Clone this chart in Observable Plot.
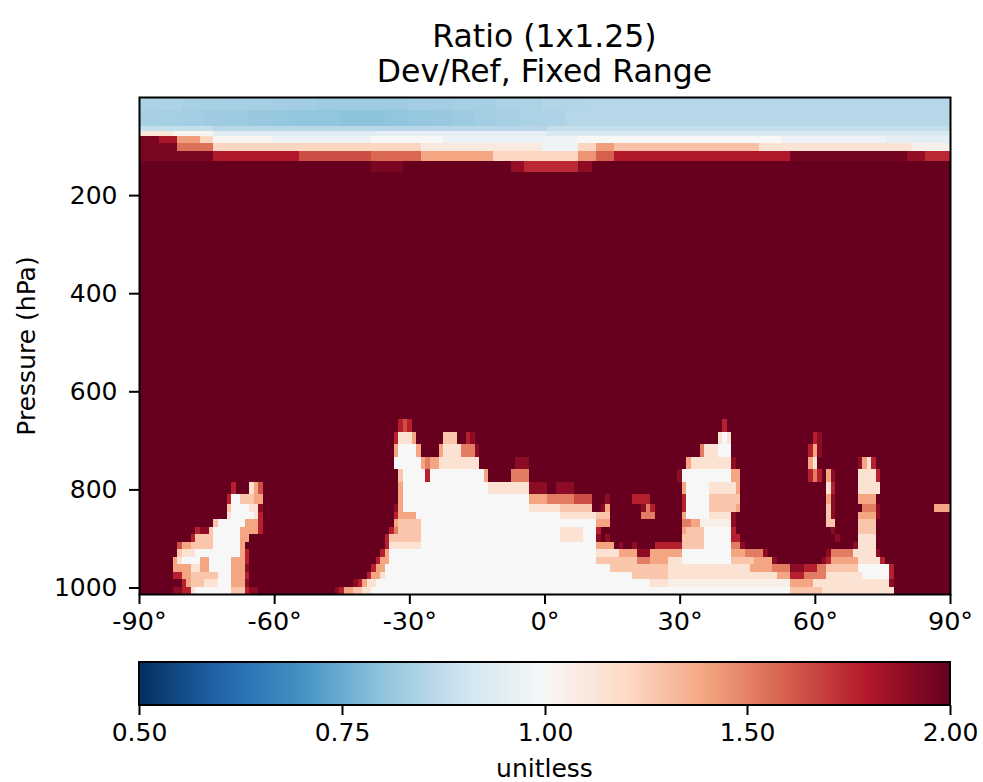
<!DOCTYPE html>
<html>
<head>
<meta charset="utf-8">
<script src="https://cdn.jsdelivr.net/npm/d3@7"></script>
<script src="https://cdn.jsdelivr.net/npm/@observablehq/plot@0.6"></script>
<style>
  body { margin: 0; background: #fff; font-family: "DejaVu Sans", sans-serif; color: #000; }
  #title { width: 983px; height: 88px; box-sizing: border-box; padding-top: 19px; padding-left: 139px; padding-right: 33px;
           text-align: center; font-size: 31.5px; line-height: 35px; }
  #title div { white-space: nowrap; }
</style>
</head>
<body>
<div id="title"><div>Ratio (1x1.25)</div><div>Dev/Ref, Fixed Range</div></div>
<div id="chart"></div>
<div id="cbar"></div>
<script>
// ---------------- data ----------------
const latitudes = d3.range(-90, 91);            // 1° latitude cell centres
// level edges (hPa), surface upward; upper-troposphere edges
const pressureEdges = [1013.25, 998.05, 982.76, 967.49, 952.19, 936.90, 921.60, 906.30, 891.01, 875.71,
  860.42, 845.12, 829.83, 809.44, 783.97, 758.49, 733.01, 707.54, 682.07, 656.59, 631.12, 605.64, 580.17,
  554.70, 529.22, 503.75, 478.27, 452.80, 427.33, 401.85, 376.38, 350.90, 325.43, 299.95, 274.48, 249.01,
  216.86, 187.87, 152.0, 130.0, 109.6, 92.8, 79.2, 69.0, 59.0, 45.18, 35.52, 27.26, 20.35, 14.70,
  10.13, 6.71, 4.44, 2.94, 1.94, 1.28, 0.84, 0.55, 0.35, 0.22, 0.14, 0.08, 0.05, 0.03, 0.02, 0.01];
const latTicks = [-90, -60, -30, 0, 30, 60, 90];
const pressureTicks = [200, 400, 600, 800, 1000];
const colorbarTicks = [0.5, 0.75, 1.0, 1.5, 2.0];
const colorDomain = [0.5, 2.0];
const colorPivot = 1.0;
const saturatedRatio = 2.5;   // ratio above the colour range (most of the troposphere)
const codeValues = {D: 1.9, R: 1.78, r: 1.65, S: 1.52, s: 1.4, p: 1.28, q: 1.15, w: 1.06, W: 1.0};

// near-surface levels, index 0 = lowest level; "lat0 lat1 value" segments
const surfaceRows = [
  "-82 -81 D|-80 -79 R|-78 -78 q|-77 -70 W|-69 -67 p|-66 -66 R|-65 -64 D|-46 -46 D|-45 -45 R|-44 -43 s|-42 -41 p|-40 -39 q|-38 54 W|55 61 p|62 77 q",
  "-80 -80 R|-79 -79 s|-78 -76 p|-75 -73 q|-72 -70 W|-69 -67 s|-66 -66 D|-42 -42 D|-41 -41 R|-40 -40 s|-39 -38 q|-37 23 W|24 27 q|28 54 w|55 59 s|60 76 q|77 77 D",
  "-82 -81 R|-80 -79 s|-78 -73 p|-72 -70 W|-69 -67 s|-66 -66 R|-39 -39 R|-38 -37 s|-36 -36 q|-35 19 W|20 27 p|28 51 q|52 54 s|55 57 R|58 62 S|63 70 q|71 76 W|77 77 R",
  "-82 -79 s|-78 -77 q|-76 -75 s|-74 -70 W|-69 -67 s|-66 -66 D|-38 -38 R|-37 -36 s|-35 14 W|15 27 p|28 45 q|46 50 s|51 54 S|55 57 D|58 60 R|61 62 S|63 69 p|70 76 W|77 77 R",
  "-82 -82 s|-81 -81 q|-80 -77 W|-76 -75 s|-74 -70 W|-69 -67 s|-66 -66 R|-37 -37 R|-36 -35 s|-34 11 W|12 20 p|21 23 S|24 27 s|28 30 q|31 41 W|42 46 p|47 50 s|51 51 D|62 62 D|63 63 R|64 69 s|70 74 q|75 75 R",
  "-81 -81 p|-80 -78 q|-77 -68 W|-67 -67 s|-66 -66 R|-36 -36 R|-35 -35 s|-34 11 W|12 16 q|17 20 s|21 23 D|24 30 s|31 41 W|42 44 s|45 48 S|49 49 D|63 63 D|64 68 S|69 73 q|74 74 D",
  "-81 -81 r|-80 -79 s|-78 -74 p|-73 -68 W|-67 -67 s|-35 -35 R|-34 -28 q|-27 11 W|12 15 s|17 17 D|20 20 D|25 30 R|31 35 p|36 41 W|42 43 S|44 44 D|69 69 D|70 73 q",
  "-78 -78 R|-77 -74 p|-73 -68 W|-67 -66 s|-35 -35 R|-34 -28 p|-27 3 W|4 8 q|9 11 W|12 12 D|14 14 D|31 35 p|36 41 W|42 43 R|65 65 D|70 73 q",
  "-77 -77 R|-76 -75 D|-74 -74 p|-73 -68 W|-67 -64 s|-63 -63 R|-34 -34 R|-33 -33 S|-32 -28 p|-27 3 W|4 8 q|9 11 W|12 12 R|31 31 s|32 35 p|36 41 W|42 42 R|64 64 D|70 73 p",
  "-73 -73 p|-72 -67 W|-66 -64 s|-63 -63 R|-33 -33 s|-32 -28 p|-27 11 W|12 14 s|31 32 S|33 34 s|35 41 w|42 42 D|63 64 p|70 73 p",
  "-70 -70 q|-69 -65 W|-64 -64 q|-63 -63 R|-33 -33 R|-32 -29 s|-28 3 W|4 11 q|12 14 p|22 24 S|31 31 s|32 36 W|37 41 q|42 42 D|63 63 p|64 64 D|70 73 s|74 74 D",
  "-70 -70 p|-69 -66 W|-65 -64 q|-63 -63 D|-33 -33 D|-32 -32 s|-31 -4 W|-3 3 q|4 10 p|13 13 D|14 14 s|22 22 D|23 23 S|24 24 R|31 31 R|32 36 W|37 42 p|43 43 s|63 63 p|64 64 D|71 73 S|74 74 D|87 90 s",
  "-70 -70 R|-69 -68 W|-67 -65 p|-64 -63 s|-32 -32 s|-31 -4 W|-3 0 s|1 6 S|7 10 r|14 14 D|20 23 R|31 31 R|32 36 W|37 43 p|63 63 s|64 64 D|70 73 s",
  "-69 -69 R|-65 -65 q|-64 -64 s|-63 -63 r|-32 -32 s|-31 -13 W|-12 -4 q|-3 0 D|3 6 D|31 31 s|32 36 W|37 42 q|43 43 s|63 63 q|64 64 R|70 74 q",
  "-32 -32 p|-31 -27 W|-26 -26 R|-25 -14 W|-13 -13 s|-7 -4 S|30 30 D|31 41 W|42 43 s|59 59 R|60 60 S|61 61 R|63 63 s|64 64 D|70 73 q|74 74 R",
  "-33 -28 W|-27 -27 s|-26 -26 S|-25 -24 s|-23 -15 q|-6 -4 D|32 32 s|33 41 q|42 42 D|59 59 s|60 60 q|70 70 D|71 71 s|72 72 q|73 73 R",
  "-33 -33 s|-32 -29 W|-28 -28 s|-23 -23 s|-22 -19 q|-18 -16 S|-15 -15 D|35 35 S|36 38 q|39 41 W|59 59 R|60 60 s|61 61 D",
  "-33 -33 R|-32 -30 q|-29 -29 s|-22 -20 p|-17 -17 R|-16 -16 D|39 39 q|40 40 W|41 41 q|60 60 R|61 61 D",
  "-32 -32 R|-31 -31 r|-30 -30 R|40 40 R"
];

// tropopause / lower-stratosphere levels (index into pressureEdges)
const level38 = "-38 -32 1.95|-7 -5 1.88|-4 7 1.75|8 10 1.9";
const level39 = "-90 -74 1.95|-73 -55 1.8|-54 -39 1.65|-38 -28 1.58|-27 -12 1.4|-11 7 1.22|8 11 1.45|12 15 1.6|16 54 1.8|55 80 1.97|81 84 1.88|85 90 1.75";
const level40 = "-90 -82 1.95|-81 -74 1.55|-73 -28 1.22|-27 -1 1.1|0 7 0.98|8 11 1.22|12 15 1.42|16 47 1.3|48 81 1.15|82 90 1.05";
const level41 = "-90 -86 1.95|-85 -82 1.82|-81 -77 1.42|-76 -74 1.22|-73 -61 1.02|-60 -39 0.97|-38 -23 1.0|-22 0 0.97|1 7 0.98|8 52 1.0|53 75 0.97|76 90 0.95";
const level42 = "-90 -83 1.12|-82 -74 1.03|-73 -38 0.94|-37 0 0.95|1 90 0.92";
const level43 = "-90 -74 0.88|-73 0 0.86|1 90 0.88";
const stratosphereMid = "-90 -86 0.835|-85 -81 0.83|-80 -76 0.825|-75 -71 0.82|-70 -66 0.815|-65 -61 0.81|-60 -56 0.805|-55 -46 0.8|-45 -36 0.795|-35 -31 0.8|-30 -26 0.805|-25 -21 0.81|-20 -16 0.815|-15 -11 0.825|-10 -6 0.835|-5 -1 0.84|0 4 0.845|5 90 0.855";
const stratosphereTop = "-90 -81 0.84|-80 -71 0.835|-70 -61 0.83|-60 -51 0.825|-50 -31 0.82|-30 -21 0.825|-20 -11 0.83|-10 -1 0.84|0 9 0.85|10 90 0.855";
const upperRows = {38: level38, 39: level39, 40: level40, 41: level41, 42: level42, 43: level43};

// ---------------- build table ----------------
function applySegments(row, spec) {
  if (!spec) return;
  for (const seg of spec.split("|")) {
    const [a, b, c] = seg.trim().split(/\s+/);
    const v = c in codeValues ? codeValues[c] : +c;
    for (let lat = +a; lat <= +b; lat++) row[lat + 90] = v;
  }
}
function rowSpec(k) {
  if (k < surfaceRows.length) return surfaceRows[k];
  if (upperRows[k]) return upperRows[k];
  if (k >= 44 && k <= 46) return stratosphereMid;
  if (k >= 47) return stratosphereTop;
  return null;
}
const cells = [];
for (let k = 0; k < pressureEdges.length - 1; k++) {
  const row = latitudes.map(() => saturatedRatio);
  applySegments(row, rowSpec(k));
  latitudes.forEach((lat, i) => {
    cells.push({
      lat0: Math.max(-90, lat - 0.5), lat1: Math.min(90, lat + 0.5),
      p0: pressureEdges[k], p1: pressureEdges[k + 1], ratio: row[i]
    });
  });
}

// matplotlib RdBu_r
const rdbuRColors = ["#053061", "#2166ac", "#4393c3", "#92c5de", "#d1e5f0", "#f7f7f7",
                     "#fddbc7", "#f4a582", "#d6604d", "#b2182b", "#67001f"];
const rdbuInterp = d3.piecewise(d3.interpolateRgb, rdbuRColors);
const rdbuR = (t) => rdbuInterp(Math.max(0, Math.min(1, t)));
const colorOpts = {type: "diverging", domain: colorDomain, pivot: colorPivot, symmetric: false, interpolate: rdbuR, clamp: true};

const font = "'DejaVu Sans', sans-serif";
const chart = Plot.plot({
  width: 983, height: 557,
  marginLeft: 139, marginRight: 33, marginTop: 9, marginBottom: 51,
  style: {fontSize: "25px", fontFamily: font, color: "black", background: "white", overflow: "visible"},
  x: {domain: [-90, 90]},
  y: {domain: [1013.25, 0]},
  color: colorOpts,
  marks: [
    Plot.rect(cells, {x1: "lat0", x2: "lat1", y1: "p0", y2: "p1", fill: "ratio", shapeRendering: "crispEdges"}),
    Plot.frame({stroke: "black", strokeWidth: 2}),
    Plot.axisX({ticks: latTicks, tickFormat: (d) => `${d}°`, tickSize: 10, tickPadding: 7, strokeWidth: 2, label: null, fontSize: 25.5}),
    Plot.axisY({ticks: pressureTicks, tickFormat: (d) => `${d}`, tickSize: 10, tickPadding: 12, strokeWidth: 2,
                label: "Pressure (hPa)", labelAnchor: "center", labelArrow: false, labelOffset: 122, fontSize: 25})
  ]
});
document.getElementById("chart").appendChild(chart);

// colour bar
const legend = Plot.legend({
  color: colorOpts, legend: "ramp",
  width: 983, height: 137, marginLeft: 139, marginRight: 33, marginTop: 17, marginBottom: 77,
  ticks: colorbarTicks, tickFormat: d3.format(".2f"), tickSize: 10, label: null,
  style: {fontSize: "25px", fontFamily: font, color: "black", overflow: "visible"}
});
const ls = d3.select(legend);
ls.style("font-size", "25px").style("font-family", font).style("display", "block");
ls.selectAll(".tick line").attr("y1", 0).attr("y2", 10).attr("stroke", "black").attr("stroke-width", 2);
ls.selectAll(".tick text").attr("y", 18).attr("dy", "0.71em").attr("fill", "black").style("font-size", "25px");
const img = ls.select("image");
ls.append("rect")
  .attr("x", img.attr("x")).attr("y", img.attr("y"))
  .attr("width", img.attr("width")).attr("height", img.attr("height"))
  .attr("fill", "none").attr("stroke", "black").attr("stroke-width", 2);
ls.append("text")
  .attr("x", (+img.attr("x")) + (+img.attr("width")) / 2).attr("y", 132)
  .attr("text-anchor", "middle").attr("fill", "black").style("font-size", "25px")
  .text("unitless");
document.getElementById("cbar").appendChild(legend);
</script>
</body>
</html>
